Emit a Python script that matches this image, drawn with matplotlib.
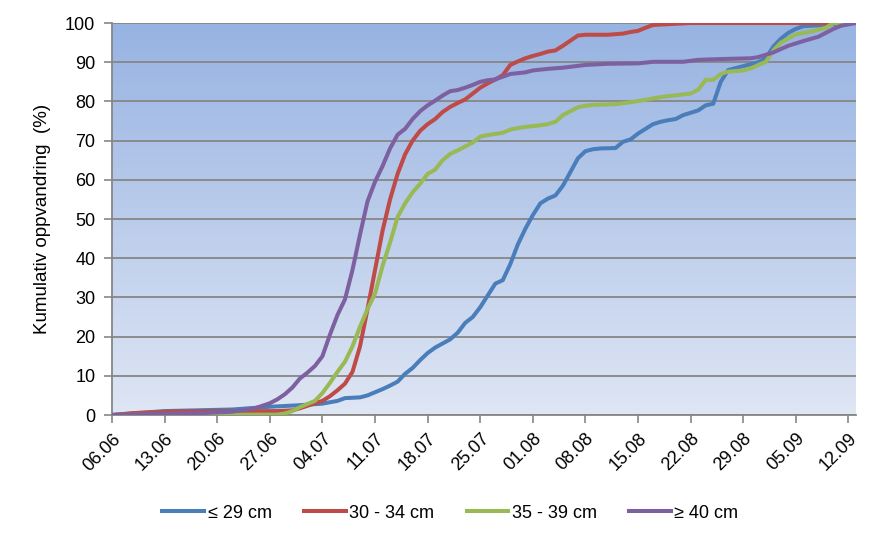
import numpy as np
import matplotlib
matplotlib.use("Agg")
import matplotlib.pyplot as plt
from matplotlib.colors import LinearSegmentedColormap

plt.rcParams['font.family'] = ['Liberation Sans', 'DejaVu Sans']

# ---- data (days since 06.06) ----
tick_days = [0, 7, 14, 21, 28, 35, 42, 49, 56, 63, 70, 77, 84, 91, 98]
tick_labels = ['06.06', '13.06', '20.06', '27.06', '04.07', '11.07', '18.07',
               '25.07', '01.08', '08.08', '15.08', '22.08', '29.08', '05.09', '12.09']
y_ticks = [0, 10, 20, 30, 40, 50, 60, 70, 80, 90, 100]

series_labels = ['≤ 29 cm', '30 - 34 cm', '35 - 39 cm', '≥ 40 cm']

days_29 = [0, 7, 16, 21, 25, 28, 30, 31, 33, 34, 36, 37, 38, 39, 40, 41, 42, 43, 45, 46,
           47, 48, 49, 50, 51, 52, 53, 54, 55, 56, 57, 58, 59, 60, 61, 62, 63, 64, 65, 67,
           68, 69, 70, 72, 73, 74, 75, 76, 78, 79, 80, 81, 82, 83, 84, 85, 86, 87, 88, 89,
           90, 91, 92, 95, 97, 99]
vals_29 = [0, 1.0, 1.4, 2.1, 2.5, 2.9, 3.6, 4.3, 4.5, 5.0, 6.6, 7.5, 8.5, 10.5, 12.0, 14.0,
           15.8, 17.2, 19.3, 21.0, 23.5, 25.0, 27.5, 30.5, 33.5, 34.4, 38.5, 43.5, 47.5, 51.0,
           54.0, 55.2, 56.0, 58.5, 62.0, 65.5, 67.3, 67.8, 68.0, 68.1, 69.7, 70.3, 71.8, 74.2,
           74.8, 75.2, 75.5, 76.5, 77.7, 79.0, 79.4, 85.0, 88.0, 88.5, 89.0, 89.5, 90.0, 91.0,
           94.0, 96.0, 97.5, 98.5, 99.2, 99.5, 100, 100]

days_30_34 = [0, 3, 8, 22, 24, 25, 27, 28, 29, 30, 31, 32, 33, 34, 35, 36, 37, 38, 39, 40,
              41, 42, 43, 44, 45, 46, 47, 48, 49, 50, 51, 52, 53, 54, 55, 56, 57, 58, 59, 60,
              61, 62, 63, 66, 68, 69, 70, 71, 72, 75, 77, 99]
vals_30_34 = [0, 0.5, 0.9, 1.0, 1.2, 1.7, 3.0, 3.6, 4.8, 6.3, 8.0, 11.0, 17.5, 27.0, 37.0,
              47.0, 55.0, 61.5, 66.5, 70.0, 72.5, 74.2, 75.5, 77.3, 78.6, 79.6, 80.5, 82.0,
              83.5, 84.6, 85.6, 86.7, 89.3, 90.2, 91.0, 91.6, 92.1, 92.7, 93.0, 94.2, 95.5,
              96.8, 97.0, 97.0, 97.3, 97.7, 98.0, 98.8, 99.5, 99.8, 100, 100]

days_35_39 = [0, 22, 23, 24, 25, 26, 27, 28, 29, 30, 31, 32, 33, 34, 35, 36, 37, 38, 39, 40,
              41, 42, 43, 44, 45, 46, 47, 48, 49, 50, 51, 52, 53, 54, 55, 57, 58, 59, 60, 61,
              62, 63, 64, 67, 69, 71, 73, 77, 78, 79, 80, 81, 82, 84, 85, 86, 87, 88, 89, 91,
              93, 95, 96, 99]
vals_35_39 = [0, 0.1, 0.4, 1.0, 2.0, 2.8, 3.6, 5.6, 8.2, 11.0, 13.6, 17.5, 22.5, 27.0, 31.0,
              38.0, 44.0, 50.5, 54.0, 56.8, 59.0, 61.5, 62.6, 65.0, 66.6, 67.5, 68.5, 69.5,
              71.0, 71.4, 71.7, 72.0, 72.8, 73.2, 73.5, 73.9, 74.2, 74.8, 76.5, 77.5, 78.5,
              78.9, 79.1, 79.3, 79.8, 80.4, 81.1, 82.0, 83.0, 85.5, 85.5, 87.0, 87.6, 87.9,
              88.4, 89.3, 90.1, 93.0, 95.0, 97.1, 97.8, 98.8, 100, 100]

days_40 = [0, 12, 16, 19, 21, 22, 23, 24, 25, 26, 27, 28, 29, 30, 31, 32, 33, 34, 35, 36,
           37, 38, 39, 40, 41, 42, 43, 44, 45, 46, 47, 48, 49, 50, 51, 52, 53, 55, 56, 58,
           60, 63, 66, 70, 72, 76, 78, 81, 85, 86, 88, 90, 92, 94, 95, 96, 97, 99]
vals_40 = [0, 0.5, 0.85, 1.7, 3.0, 4.0, 5.3, 7.0, 9.3, 10.8, 12.5, 15.0, 20.5, 25.5, 29.5,
           37.0, 46.0, 54.5, 59.5, 63.5, 68.0, 71.5, 73.0, 75.5, 77.5, 79.0, 80.2, 81.5, 82.6,
           82.9, 83.5, 84.2, 85.0, 85.4, 85.6, 86.3, 87.0, 87.4, 87.9, 88.3, 88.6, 89.3, 89.6,
           89.7, 90.1, 90.1, 90.6, 90.8, 91.0, 91.3, 92.5, 94.2, 95.4, 96.5, 97.5, 98.5, 99.3,
           100]

colors = ['#4A7EBB', '#BE4B48', '#98B954', '#7D60A0']

fig = plt.figure(figsize=(8.92, 5.44), dpi=100)
ax = fig.add_axes([112 / 892, 1 - 415 / 544, (856 - 112) / 892, (415 - 23) / 544])

# gradient background
cmap = LinearSegmentedColormap.from_list('bg', ['#DFE6F4', '#97B3E2'])
grad = np.linspace(0, 1, 256).reshape(-1, 1)
ax.imshow(grad, cmap=cmap, aspect='auto', origin='lower',
          extent=[0, 99, 0, 100], zorder=0)

for y in y_ticks:
    ax.axhline(y, color='#868686', lw=1.3, zorder=1)

for d, v, c, lab in zip([days_29, days_30_34, days_35_39, days_40],
                        [vals_29, vals_30_34, vals_35_39, vals_40],
                        colors, series_labels):
    ax.plot(d, v, color=c, lw=2.9, label=lab, zorder=3, solid_joinstyle='round')

ax.set_xlim(0, 99)
ax.set_ylim(0, 100)
ax.set_xticks(tick_days)
ax.set_xticklabels(tick_labels, rotation=45, ha='right', rotation_mode='anchor', fontsize=13)
ax.set_yticks(y_ticks)
ax.set_yticklabels([str(v) for v in y_ticks], fontsize=13)
ax.tick_params(axis='both', direction='out', color='#868686', length=6, width=1.2)
ax.tick_params(axis='x', pad=5)
ax.tick_params(axis='y', pad=6)
for s in ['top', 'right']:
    ax.spines[s].set_visible(False)
for s in ['left', 'bottom']:
    ax.spines[s].set_color('#868686')
    ax.spines[s].set_linewidth(1.3)

ax.set_ylabel('Kumulativ oppvandring  (%)', fontsize=13.5, labelpad=10)

fig.legend(loc='center', bbox_to_anchor=(0.505, 1 - 513 / 544), ncol=4, frameon=False,
           fontsize=13, handlelength=2.3, columnspacing=1.8, handletextpad=0.2)

fig.savefig('out.png', dpi=100)
